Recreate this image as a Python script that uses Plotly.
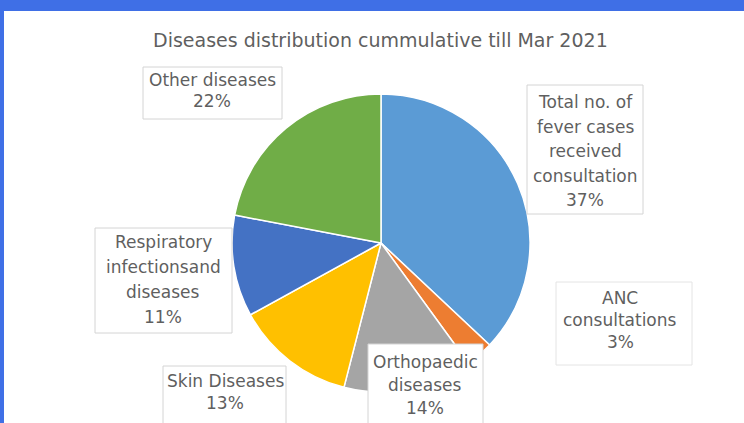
import plotly.graph_objects as go

W, H = 744, 423

title = "Diseases distribution cummulative till Mar 2021"
categories = ["Total no. of fever cases received consultation", "ANC consultations",
              "Orthopaedic diseases", "Skin Diseases", "Respiratory infections and diseases",
              "Other diseases"]
values = [37, 3, 14, 13, 11, 22]
label_lines = [
    ["Total no. of", "fever cases", "received", "consultation", "37%"],
    ["ANC", "consultations", "3%"],
    ["Orthopaedic", "diseases", "14%"],
    ["Skin Diseases", "13%"],
    ["Respiratory", "infectionsand", "diseases", "11%"],
    ["Other diseases", "22%"],
]
colors = ["#5B9BD5", "#ED7D31", "#A5A5A5", "#FFC000", "#4472C4", "#70AD47"]

def px(x):
    return x / W

def py(y):
    return 1 - y / H

# pie geometry (pixels)
cx, cy, r = 381, 243, 149

fig = go.Figure(go.Pie(
    labels=categories, values=values, sort=False, direction="clockwise", rotation=0,
    marker=dict(colors=colors, line=dict(color="white", width=1.5)),
    textinfo="none", hoverinfo="label+percent", showlegend=False,
    domain=dict(x=[px(cx - r), px(cx + r)], y=[py(cy + r), py(cy - r)]),
))

# label boxes: (left, top, right, bottom, center x, first line y, line spacing, border colour)
boxes = [
    (527, 85, 643, 214, 585, 102, 24.5, "#D4D4D4"),
    (556, 282, 692, 365, 620, 298, 22, "#E4E4E4"),
    (368, 344, 483, 430, 425, 362, 23, "#D4D4D4"),
    (163, 366, 286, 430, 225, 381, 22, "#D4D4D4"),
    (95, 228, 232, 333, 163, 242, 25, "#D4D4D4"),
    (143, 67, 282, 119, 212, 80, 21, "#D4D4D4"),
]

shapes = [
    dict(type="rect", xref="paper", yref="paper", x0=0, x1=1, y0=py(11), y1=1,
         fillcolor="#3F6FE6", line=dict(width=0), layer="above"),
    dict(type="rect", xref="paper", yref="paper", x0=0, x1=px(4), y0=0, y1=1,
         fillcolor="#3F6FE6", line=dict(width=0), layer="above"),
]
annotations = [dict(text=title, xref="paper", yref="paper", x=px(380), y=py(40),
                    xanchor="center", yanchor="middle", showarrow=False,
                    font=dict(family="DejaVu Sans", size=19, color="#5F5F5F"))]

for (l, t, rr, b, tx, ty, sp, bc), lines in zip(boxes, label_lines):
    shapes.append(dict(type="rect", xref="paper", yref="paper",
                       x0=px(l), x1=px(rr), y0=py(b), y1=py(t),
                       fillcolor="white", line=dict(color=bc, width=1), layer="above"))
    for i, ln in enumerate(lines):
        annotations.append(dict(text=ln, xref="paper", yref="paper", x=px(tx), y=py(ty + i * sp),
                                xanchor="center", yanchor="middle", showarrow=False,
                                font=dict(family="DejaVu Sans", size=17, color="#5F5F5F")))

fig.update_layout(width=W, height=H, margin=dict(l=0, r=0, t=0, b=0),
                  paper_bgcolor="white", plot_bgcolor="white",
                  shapes=shapes, annotations=annotations)

fig.write_html("out.html")
